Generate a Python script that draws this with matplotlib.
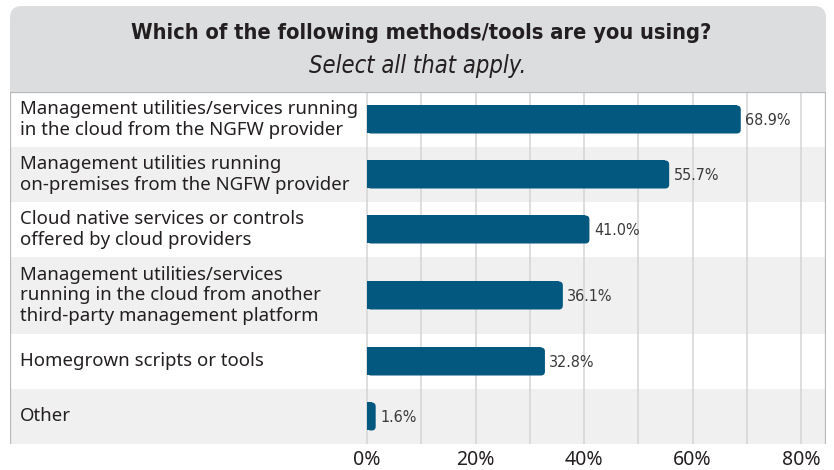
import matplotlib
matplotlib.use("Agg")
import matplotlib.pyplot as plt
from matplotlib.patches import FancyBboxPatch, Rectangle

categories = [
    "Management utilities/services running\nin the cloud from the NGFW provider",
    "Management utilities running\non-premises from the NGFW provider",
    "Cloud native services or controls\noffered by cloud providers",
    "Management utilities/services\nrunning in the cloud from another\nthird-party management platform",
    "Homegrown scripts or tools",
    "Other",
]
values = [68.9, 55.7, 41.0, 36.1, 32.8, 1.6]
tick_values = [0, 20, 40, 60, 80]
tick_labels = ["0%", "20%", "40%", "60%", "80%"]
title = "Which of the following methods/tools are you using?"
subtitle = "Select all that apply."

W, H = 834, 470
BAR_COLOR = "#03587f"
ALT_BG = "#f0f0f0"
GRID = "#d4d4d4"
BORDER = "#b8b8b8"

fig = plt.figure(figsize=(W / 100, H / 100), dpi=100)

# Decoration layer in pixel coordinates
bg = fig.add_axes([0, 0, 1, 1])
bg.set_xlim(0, W)
bg.set_ylim(H, 0)
bg.axis("off")

box_left, box_right, box_top, chart_top = 10, 826, 6, 92
bg.add_patch(FancyBboxPatch((box_left, box_top), box_right - box_left, 110,
                            boxstyle="round,pad=0,rounding_size=12",
                            facecolor="#dcdddf", edgecolor="none", zorder=1))
bg.text(421, 33, title, ha="center", va="center", fontsize=15.7,
        fontweight="bold", family="DejaVu Sans", stretch="condensed",
        color="#231f20", zorder=5)
bg.text(418, 66, subtitle, ha="center", va="center", fontsize=17,
        style="italic", family="DejaVu Sans", stretch="condensed",
        color="#231f20", zorder=5)

# Row layout: height grows with the number of label lines
nlines = [max(2, c.count("\n") + 1) for c in categories]
row_h = [11 + 22 * n for n in nlines]
edges = [chart_top]
for h in row_h:
    edges.append(edges[-1] + h)
centers = [(edges[i] + edges[i + 1]) / 2 for i in range(len(categories))]

x0_px, px_per_pct = 367, 5.425
xmin = -(x0_px - box_left) / px_per_pct
xmax = (box_right - x0_px) / px_per_pct

ax = fig.add_axes([box_left / W, 1 - edges[-1] / H,
                   (box_right - box_left) / W, (edges[-1] - chart_top) / H])
ax.set_xlim(xmin, xmax)
ax.set_ylim(edges[-1], chart_top)
ax.patch.set_alpha(0)
for s in ax.spines.values():
    s.set_visible(False)
ax.tick_params(left=False, labelleft=False, bottom=False, length=0, pad=4)
ax.set_xticks(tick_values)
ax.set_xticklabels(tick_labels, fontsize=14, family="Noto Sans", color="#231f20")
ax.set_yticks([])

# Alternating row backgrounds
for i in range(len(categories)):
    ax.add_patch(Rectangle((xmin, edges[i]), xmax - xmin, row_h[i],
                           facecolor="white" if i % 2 == 0 else ALT_BG,
                           edgecolor="none", zorder=0))

# Vertical grid every 10%
for g in range(0, 81, 10):
    ax.axvline(g, color=GRID, lw=1.1, zorder=1)

# Frame lines
ax.axvline(xmin, color=BORDER, lw=1.6, zorder=3)
ax.axvline(xmax, color=BORDER, lw=1.6, zorder=3)
ax.axhline(chart_top, color=BORDER, lw=1.6, zorder=3)

bar_h = 28
r = 4 / px_per_pct
for i, (v, c) in enumerate(zip(values, categories)):
    yc = centers[i]
    ax.add_patch(FancyBboxPatch((0, yc - bar_h / 2), v, bar_h,
                                boxstyle=f"round,pad=0,rounding_size={r}",
                                mutation_aspect=px_per_pct,
                                facecolor=BAR_COLOR, edgecolor="none", zorder=2))
    ax.add_patch(Rectangle((0, yc - bar_h / 2), max(v - r, 0) if v > 2 * r else v / 2,
                           bar_h, facecolor=BAR_COLOR, edgecolor="none", zorder=2))
    ax.text(v + 0.8, yc + 1, f"{v:.1f}%", ha="left", va="center", fontsize=11.5,
            family="DejaVu Sans", stretch="condensed", color="#3a3a3a", zorder=4)
    ax.text(xmin + 10 / px_per_pct, yc, c, ha="left", va="center", fontsize=13.4,
            family="Noto Sans", color="#231f20", linespacing=1.2, zorder=4)

fig.savefig("out.png", dpi=100)
